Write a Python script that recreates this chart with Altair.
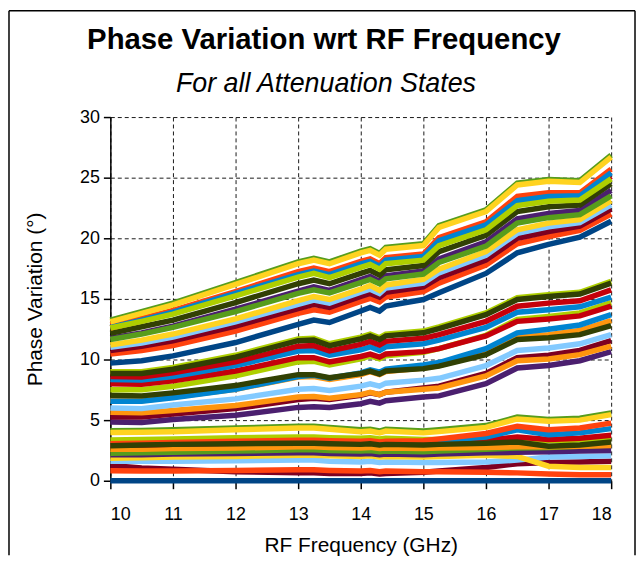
import altair as alt
import pandas as pd

# Frequency points (GHz)
freqs = [10, 10.5, 11, 12, 13, 13.25, 13.5, 14, 14.15, 14.3, 14.4, 15, 15.25, 16, 16.5, 17, 17.5, 18]

# Palette
DB, OR, YE, GR = "#004586", "#ff420e", "#ffd320", "#579d1c"
MA, LB, DO, YG = "#7e0021", "#83caff", "#314004", "#aecf00"
PU, OG, RE, BL = "#4b1f6f", "#ff950e", "#c5000b", "#0084d1"

# ---- lower group of states
bot_dblue = [0, 0, 0, 0, 0, 0, 0, 0, 0, 0, 0, 0, 0, 0, 0, 0, 0, 0]
bot_maroon = [1.25, 1.05, 0.95, 0.75, 0.65, 0.65, 0.6, 0.6, 0.65, 0.55, 0.6, 0.7, 0.8, 1.1, 1.4, 1.5, 1.55, 1.6]
bot_ored = [0.82, 0.8, 0.8, 0.85, 0.9, 0.9, 0.85, 0.8, 0.85, 0.75, 0.8, 0.75, 0.75, 0.7, 0.65, 0.55, 0.5, 0.5]
bot_lblue = [1.6, 1.6, 1.6, 1.65, 1.7, 1.7, 1.6, 1.55, 1.6, 1.5, 1.55, 1.5, 1.5, 1.55, 1.7, 1.95, 2.0, 2.05]
bot_yellow = [1.85, 1.9, 1.95, 2.0, 2.1, 2.1, 2.05, 2.0, 2.05, 1.95, 2.0, 1.95, 2.0, 2.1, 2.0, 1.2, 1.1, 1.1]
bot_purple = [2.15, 2.15, 2.2, 2.25, 2.3, 2.3, 2.25, 2.2, 2.25, 2.15, 2.2, 2.15, 2.2, 2.3, 2.35, 2.4, 2.45, 2.5]
bot_green = [2.26, 2.3, 2.35, 2.45, 2.55, 2.55, 2.5, 2.45, 2.5, 2.4, 2.45, 2.4, 2.45, 2.6, 2.7, 2.75, 2.85, 2.95]
bot_orange = [2.6, 2.6, 2.65, 2.7, 2.8, 2.8, 2.75, 2.7, 2.75, 2.65, 2.7, 2.65, 2.7, 2.75, 2.8, 2.8, 2.85, 2.9]
bot_ygreen = [3.36, 3.4, 3.45, 3.55, 3.6, 3.6, 3.55, 3.5, 3.55, 3.45, 3.5, 3.4, 3.4, 3.4, 3.45, 3.3, 3.35, 3.45]
bot_red = [2.95, 2.95, 3.0, 3.1, 3.2, 3.2, 3.15, 3.1, 3.15, 3.05, 3.1, 3.05, 3.15, 3.35, 3.6, 3.4, 3.5, 3.75]
bot_blue = [3.0, 3.0, 3.05, 3.15, 3.25, 3.25, 3.2, 3.15, 3.2, 3.1, 3.15, 3.15, 3.3, 3.6, 4.2, 3.8, 3.95, 4.3]
bot_ored2 = [3.05, 3.1, 3.15, 3.25, 3.35, 3.35, 3.3, 3.25, 3.3, 3.2, 3.25, 3.3, 3.45, 3.9, 4.5, 4.2, 4.35, 4.75]
bot_olive = [2.89, 2.95, 3.0, 3.05, 3.1, 3.1, 3.05, 3.0, 3.05, 2.95, 3.0, 2.95, 3.0, 3.1, 3.2, 2.85, 2.95, 3.2]
bot_green2 = [4.13, 4.15, 4.2, 4.35, 4.5, 4.5, 4.4, 4.2, 4.25, 4.1, 4.25, 4.1, 4.2, 4.55, 5.25, 5.05, 5.15, 5.6]
bot_yellow2 = [3.98, 4.0, 4.05, 4.2, 4.35, 4.35, 4.25, 4.05, 4.1, 3.95, 4.1, 3.95, 4.05, 4.4, 5.1, 4.9, 5.0, 5.45]

# ---- middle group of states
mid_purple = [4.85, 4.8, 5.05, 5.4, 6.05, 6.1, 6.05, 6.35, 6.55, 6.4, 6.6, 6.9, 7.0, 8.0, 9.3, 9.5, 9.9, 10.65]
mid_maroon = [5.25, 5.25, 5.5, 5.95, 6.7, 6.8, 6.7, 7.05, 7.25, 7.1, 7.3, 7.65, 7.8, 8.85, 10.15, 10.35, 10.75, 11.55]
mid_orange = [5.65, 5.6, 5.8, 6.2, 6.9, 6.95, 6.8, 7.1, 7.3, 7.1, 7.3, 7.55, 7.65, 8.65, 9.9, 10.05, 10.4, 11.1]
mid_lblue = [6.0, 5.95, 6.25, 6.75, 7.55, 7.6, 7.45, 7.8, 8.0, 7.8, 8.05, 8.3, 8.45, 9.5, 10.75, 10.95, 11.3, 12.05]
mid_orange2 = [6.65, 6.6, 6.9, 7.55, 8.55, 8.6, 8.35, 8.75, 9.0, 8.75, 9.0, 9.3, 9.5, 10.55, 11.85, 12.05, 12.4, 13.2]
mid_blue = [6.55, 6.55, 6.85, 7.55, 8.6, 8.7, 8.45, 8.9, 9.15, 8.95, 9.2, 9.55, 9.75, 10.9, 12.2, 12.5, 12.85, 13.7]
mid_olive = [7.05, 7.0, 7.25, 7.85, 8.75, 8.75, 8.5, 8.85, 9.05, 8.8, 9.05, 9.25, 9.45, 10.4, 11.65, 11.8, 12.05, 12.8]
mid_ygreen = [7.5, 7.5, 7.8, 8.65, 9.8, 9.85, 9.55, 10.05, 10.3, 10.05, 10.3, 10.6, 10.9, 12.0, 13.3, 13.55, 13.85, 14.7]
mid_red = [8.0, 7.95, 8.25, 9.05, 10.15, 10.15, 9.8, 10.25, 10.45, 10.2, 10.45, 10.65, 10.9, 11.95, 13.15, 13.35, 13.6, 14.4]
mid_blue2 = [8.35, 8.3, 8.6, 9.5, 10.7, 10.75, 10.35, 10.8, 11.05, 10.75, 11.05, 11.3, 11.6, 12.65, 13.9, 14.1, 14.35, 15.15]
mid_red2 = [8.6, 8.55, 8.9, 9.8, 11.1, 11.15, 10.7, 11.25, 11.5, 11.2, 11.5, 11.75, 12.05, 13.15, 14.4, 14.65, 14.85, 15.75]
mid_ygreen2 = [9.0, 9.0, 9.35, 10.35, 11.7, 11.75, 11.3, 11.85, 12.1, 11.8, 12.1, 12.35, 12.7, 13.85, 15.1, 15.35, 15.55, 16.45]
mid_olive2 = [8.85, 8.85, 9.2, 10.2, 11.55, 11.6, 11.15, 11.7, 11.95, 11.65, 11.95, 12.2, 12.55, 13.7, 14.95, 15.2, 15.4, 16.3]

# ---- upper group of states
top_dblue = [9.7, 9.9, 10.3, 11.4, 12.9, 13.25, 13.05, 14.0, 14.3, 14.0, 14.4, 14.95, 15.5, 17.1, 18.8, 19.5, 20.1, 21.4]
top_ored = [10.45, 10.75, 11.15, 12.35, 13.8, 14.1, 13.9, 14.8, 15.05, 14.75, 15.15, 15.6, 16.3, 17.8, 19.55, 20.15, 20.65, 22.0]
top_maroon = [10.75, 11.1, 11.55, 12.75, 14.2, 14.55, 14.3, 15.2, 15.45, 15.15, 15.55, 16.0, 16.75, 18.2, 20.0, 20.55, 21.0, 22.4]
top_lblue = [11.0, 11.35, 11.85, 13.1, 14.55, 14.9, 14.65, 15.55, 15.8, 15.45, 15.9, 16.3, 17.15, 18.6, 20.4, 20.95, 21.3, 22.75]
top_yellow = [11.2, 11.6, 12.1, 13.35, 14.85, 15.2, 14.95, 15.8, 16.1, 15.7, 16.15, 16.6, 17.45, 18.9, 20.7, 21.25, 21.55, 23.1]
top_purple = [11.75, 12.2, 12.75, 14.15, 15.65, 16.0, 15.7, 16.6, 16.85, 16.45, 16.9, 17.3, 18.3, 19.7, 21.6, 22.05, 22.3, 23.95]
top_green = [11.65, 12.1, 12.65, 13.95, 15.45, 15.75, 15.5, 16.35, 16.6, 16.25, 16.65, 17.05, 18.0, 19.35, 21.25, 21.7, 21.95, 23.5]
top_olive = [12.15, 12.7, 13.25, 14.7, 16.25, 16.55, 16.25, 17.1, 17.35, 16.95, 17.4, 17.75, 18.9, 20.25, 22.2, 22.6, 22.75, 24.5]
top_ored2 = [12.85, 13.4, 14.05, 15.6, 17.25, 17.55, 17.25, 18.1, 18.3, 17.9, 18.4, 18.7, 20.05, 21.35, 23.45, 23.75, 23.75, 25.7]
top_red = [12.6, 13.2, 13.85, 15.35, 16.9, 17.2, 16.9, 17.75, 17.95, 17.55, 18.05, 18.35, 19.55, 20.9, 22.9, 23.25, 23.3, 25.1]
top_blue = [12.65, 13.25, 13.9, 15.45, 17.0, 17.3, 17.0, 17.9, 18.1, 17.7, 18.2, 18.5, 19.8, 21.1, 23.1, 23.45, 23.5, 25.4]
top_ygreen = [12.6, 13.15, 13.75, 15.25, 16.8, 17.1, 16.75, 17.6, 17.85, 17.45, 17.9, 18.2, 19.4, 20.7, 22.7, 23.05, 23.15, 24.9]
top_green2 = [13.25, 13.95, 14.65, 16.35, 18.05, 18.35, 18.05, 18.95, 19.15, 18.75, 19.25, 19.55, 21.05, 22.35, 24.55, 24.85, 24.75, 26.85]
top_yellow2 = [13.1, 13.8, 14.5, 16.2, 17.9, 18.2, 17.9, 18.8, 19.0, 18.6, 19.1, 19.4, 20.9, 22.2, 24.4, 24.7, 24.6, 26.7]

# draw order (later on top)
series = [
    (bot_dblue, DB), (bot_maroon, MA), (bot_ored, OR), (bot_lblue, LB), (bot_yellow, YE),
    (bot_purple, PU), (bot_green, GR), (bot_orange, OG), (bot_ygreen, YG), (bot_red, RE),
    (bot_blue, BL), (bot_ored2, OR), (bot_olive, DO), (bot_green2, GR), (bot_yellow2, YE),
    (mid_purple, PU), (mid_maroon, MA), (mid_orange, OG), (mid_lblue, LB), (mid_orange2, OG),
    (mid_blue, BL), (mid_olive, DO), (mid_ygreen, YG), (mid_red, RE), (mid_blue2, BL),
    (mid_red2, RE), (mid_ygreen2, YG), (mid_olive2, DO),
    (top_dblue, DB), (top_ored, OR), (top_maroon, MA), (top_lblue, LB), (top_yellow, YE),
    (top_purple, PU), (top_green, GR), (top_olive, DO), (top_ored2, OR), (top_red, RE),
    (top_blue, BL), (top_ygreen, YG), (top_green2, GR), (top_yellow2, YE),
]

title_text = "Phase Variation wrt RF Frequency"
subtitle_text = "For all Attenuation States"

rows = []
ids, colors = [], []
for i, (vals, col) in enumerate(series):
    sid = f"s{i:02d}"
    ids.append(sid)
    colors.append(col)
    for f, v in zip(freqs, vals):
        rows.append({"sid": sid, "freq": f, "phase": v})
df = pd.DataFrame(rows)

x_ticks = [10, 11, 12, 13, 14, 15, 16, 17, 18]
y_ticks = [0, 5, 10, 15, 20, 25, 30]

lines = alt.Chart(df).mark_line(strokeWidth=5.5, strokeCap="butt", strokeJoin="miter", clip=False).encode(
    x=alt.X("freq:Q", scale=alt.Scale(domain=[10, 18], nice=False, zero=False),
            axis=alt.Axis(values=x_ticks, format="d", title="RF Frequency (GHz)")),
    y=alt.Y("phase:Q", scale=alt.Scale(domain=[0, 30], nice=False),
            axis=alt.Axis(values=y_ticks, format="d", title="Phase Variation (°)")),
    color=alt.Color("sid:N", scale=alt.Scale(domain=ids, range=colors), legend=None),
)

one = pd.DataFrame({"k": [0]})
frame_top = alt.Chart(one).mark_rule(color="black", strokeWidth=1.5).encode(
    x=alt.value(-102), x2=alt.value(528), y=alt.value(-107))
frame_left = alt.Chart(one).mark_rule(color="black", strokeWidth=1.5).encode(
    x=alt.value(-102), y=alt.value(-107), y2=alt.value(441))
frame_right = alt.Chart(one).mark_rule(color="black", strokeWidth=1.5).encode(
    x=alt.value(528), y=alt.value(-107), y2=alt.value(441))

title_mark = alt.Chart(one).mark_text(
    text=title_text, fontSize=29.5, fontWeight="bold", font="Liberation Sans",
    align="center", baseline="alphabetic", color="black",
).encode(x=alt.value(215), y=alt.value(-68))
subtitle_mark = alt.Chart(one).mark_text(
    text=subtitle_text, fontSize=27, fontStyle="italic", font="Liberation Sans",
    align="center", baseline="alphabetic", color="black",
).encode(x=alt.value(217), y=alt.value(-25))

chart = alt.layer(lines, frame_top, frame_left, frame_right, title_mark, subtitle_mark).properties(
    width=504,
    height=366,
    padding=0,
).configure(font="Liberation Sans").configure_view(stroke=None).configure_axis(
    domainColor="black", domainWidth=1.5, tickColor="black", tickWidth=1.5,
    gridColor="black", gridDash=[4, 3], gridWidth=1, gridOpacity=0.9,
    labelFontSize=18, labelColor="black", titleFontSize=21, titleFontWeight="normal",
    titleColor="black", labelFont="Liberation Sans", titleFont="Liberation Sans",
).configure_axisX(tickSize=8, labelPadding=17, titlePadding=11).configure_axisY(
    tickSize=7, labelPadding=4, titlePadding=34)

chart.save("out.html", embed_options={"renderer": "svg", "actions": False})
